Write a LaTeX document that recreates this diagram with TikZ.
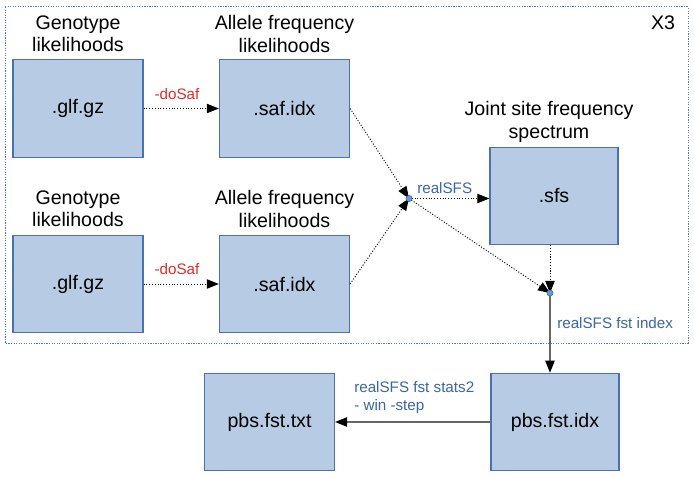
\documentclass[tikz,border=0pt]{standalone}
\usepackage{fontspec}
\setmainfont{Liberation Sans}
\usetikzlibrary{arrows.meta}
\definecolor{boxfill}{HTML}{B7CCE4}
\definecolor{boxline}{HTML}{4A72B0}
\definecolor{lblblue}{HTML}{3A66A8}
\definecolor{lblred}{HTML}{E52B2B}
\definecolor{frameblue}{HTML}{4F7BC0}
\definecolor{dotfill}{HTML}{6A96D2}
\begin{document}
\begin{tikzpicture}[x=0.75pt,y=-0.75pt,
  filebox/.style={draw=boxline,fill=boxfill,line width=0.9pt,minimum width=97.5pt,minimum height=73pt,inner sep=0pt,font=\fontsize{14.7}{16.5}\selectfont},
  title/.style={align=center,inner sep=0pt,font=\fontsize{14.7}{16.8}\selectfont},
  lbl/.style={text=lblblue,inner sep=0pt,font=\fontsize{11.4}{13.5}\selectfont},
  redlbl/.style={text=lblred,inner sep=0pt,font=\fontsize{11.4}{13.5}\selectfont},
  jdot/.style={circle,fill=dotfill,draw=boxline,line width=0.4pt,minimum size=4.5pt,inner sep=0pt},
  dotarrow/.style={line width=0.65pt,dash pattern=on 0.8pt off 1.3pt,-{Triangle[length=9pt,width=7pt]}},
  solidarrow/.style={line width=1pt,draw=black!60,-{Triangle[length=9pt,width=7pt,fill=black,color=black]}}
]
\useasboundingbox (0,0) rectangle (694,478);
% outer frame
\draw[frameblue,line width=0.75pt,dash pattern=on 0.9pt off 1pt] (5,7) rectangle (688,343);
\node[title] (x3) at (663,23) {X3};
% titles
\node[title] (t1) at (78,34) {Genotype\\likelihoods};
\node[title] (t2) at (284.5,34) {Allele frequency\\likelihoods};
\node[title] (t3) at (78,209) {Genotype\\likelihoods};
\node[title] (t4) at (284.5,209) {Allele frequency\\likelihoods};
\node[title] (t5) at (549,122) {Joint site frequency\\spectrum};
% boxes
\node[filebox] (g1) at (78,108.5) {.glf.gz};
\node[filebox] (s1) at (284.5,108.5) {.saf.idx};
\node[filebox] (g2) at (78,284) {.glf.gz};
\node[filebox] (s2) at (284.5,284) {.saf.idx};
\node[filebox,minimum width=96pt] (sfs) at (554,196) {.sfs};
\node[filebox,minimum width=96pt] (idx) at (555,422) {pbs.fst.idx};
\node[filebox] (txt) at (269.5,422) {pbs.fst.txt};
% junctions
\node[jdot] (j1) at (409,198.5) {};
\node[jdot] (j2) at (550,293) {};
% arrows
\draw[dotarrow] (g1.east) -- (s1.west);
\draw[dotarrow] (g2.east) -- (s2.west);
\node[redlbl] (d1) at (177,94) {-doSaf};
\node[redlbl] (d2) at (177,269) {-doSaf};
\draw[dotarrow] (s1.east) -- (j1.center);
\draw[dotarrow] (s2.east) -- (j1.center);
\draw[dotarrow] (j1.center) -- (sfs.west |- j1);
\node[lbl,anchor=west] (rs) at (417,188) {realSFS};
\draw[dotarrow] (j1.center) -- (j2.center);
\draw[dotarrow] (sfs.south -| j2) -- (j2.center);
\node[jdot] at (j1) {};
\node[jdot] at (j2) {};
\draw[solidarrow] (j2.south) -- (j2 |- idx.north);
\node[lbl,anchor=west] (fi) at (557,323) {realSFS fst index};
\draw[solidarrow] (idx.west) -- (txt.east);
\node[lbl,anchor=west,align=left] (st) at (354,398) {realSFS fst stats2\\- win -step};
\end{tikzpicture}
\end{document}
